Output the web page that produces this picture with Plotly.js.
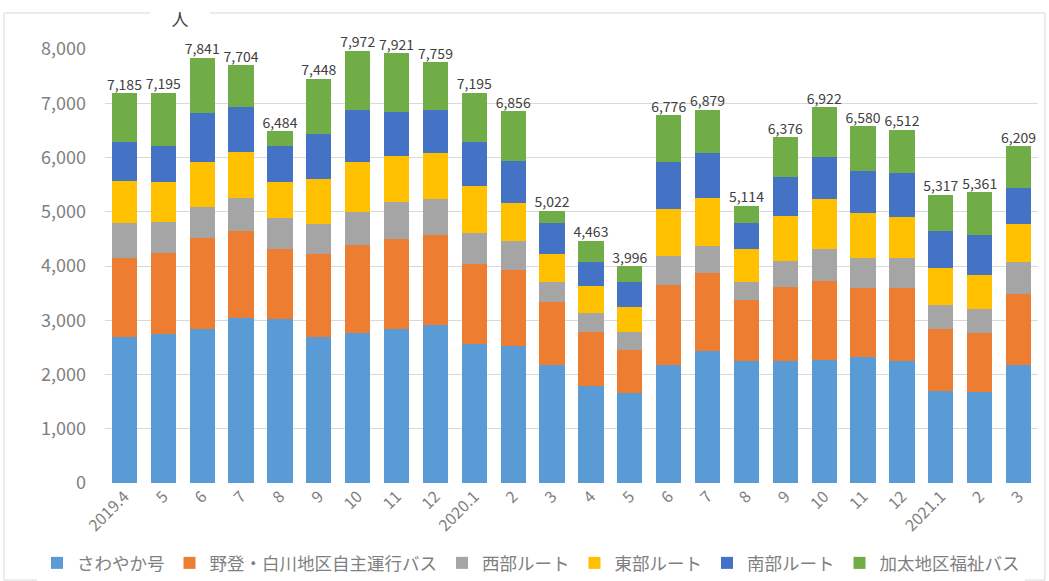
<!DOCTYPE html>
<html>
<head>
<meta charset="utf-8">
<script src="https://cdn.plot.ly/plotly-3.0.1.min.js"></script>
<style>html,body{margin:0;padding:0;background:#fff;}#chart{width:1049px;height:581px;}</style>
</head>
<body>
<div id="chart"></div>
<script>
const months = ["2019.4","5","6","7","8","9","10","11","12","2020.1","2","3","4","5","6","7","8","9","10","11","12","2021.1","2","3"];
const seriesNames = ["さわやか号","野登・白川地区自主運行バス","西部ルート","東部ルート","南部ルート","加太地区福祉バス"];
const sawayaka = [2690,2750,2835,3045,3025,2700,2760,2840,2920,2565,2530,2180,1790,1660,2180,2440,2240,2240,2275,2330,2255,1700,1685,2180];
const notoShirakawa = [1450,1495,1675,1605,1285,1520,1625,1650,1650,1480,1405,1150,985,790,1475,1440,1140,1375,1450,1270,1345,1140,1075,1295];
const seibu = [650,565,575,595,570,555,605,690,660,555,520,370,355,340,525,495,325,480,580,540,540,435,450,600];
const toubu = [785,735,840,865,665,830,920,840,855,880,715,530,495,450,865,875,600,830,935,830,760,690,620,700];
const nanbu = [710,660,890,820,675,820,958,815,785,800,760,570,440,460,870,835,495,710,770,775,815,685,740,655];
const kabuto = [900,990,1026,774,264,1023,1104,1086,889,915,926,222,398,296,861,794,314,741,912,835,797,667,791,779];
const totals = [7185,7195,7841,7704,6484,7448,7972,7921,7759,7195,6856,5022,4463,3996,6776,6879,5114,6376,6922,6580,6512,5317,5361,6209];
const colors = ["#5B9BD5","#ED7D31","#A5A5A5","#FFC000","#4472C4","#70AD47"];

const seriesVals = [sawayaka, notoShirakawa, seibu, toubu, nanbu, kabuto];
const xIdx = months.map((m,i)=>i);
const traces = seriesVals.map((vals,k)=>({
  type:"bar", x:xIdx, y:vals, name:seriesNames[k],
  marker:{color:colors[k], line:{width:0}}, hoverinfo:"skip"
}));
traces.push({
  type:"scatter", mode:"text", x:xIdx, y:totals,
  text:totals.map(v=>v.toLocaleString("en-US")),
  textposition:"top center",
  textfont:{size:14, color:"#404040", family:"Noto Sans CJK JP, sans-serif"},
  showlegend:false, hoverinfo:"skip", cliponaxis:false
});

const PL=105, PR=1038, PT=49, PB=483;
const px=(x)=>(x-PL)/(PR-PL);
const py=(y)=>(PB-y)/(PB-PT);

const layout = {
  width:1049, height:581,
  margin:{l:PL, r:1049-PR, t:PT, b:581-PB, autoexpand:false},
  paper_bgcolor:"#ffffff", plot_bgcolor:"#ffffff",
  barmode:"stack", bargap:0.35,
  font:{family:"Noto Sans CJK JP, sans-serif", color:"#7f7f7f"},
  xaxis:{
    tickmode:"array", tickvals:xIdx, ticktext:months,
    tickangle:-45, tickfont:{size:16, color:"#7f7f7f"},
    range:[-0.5, 23.5], showgrid:false, zeroline:false, showline:false, ticks:"",
    automargin:false
  },
  yaxis:{
    range:[0,8000], tickvals:[0,1000,2000,3000,4000,5000,6000,7000,8000],
    tickformat:",d", tickfont:{size:18, color:"#7f7f7f"},
    gridcolor:"#d9d9d9", gridwidth:1, zeroline:false, showline:false,
    ticklabelstandoff:18, automargin:false
  },
  legend:{
    orientation:"h", x:px(37), xanchor:"left", y:py(563), yanchor:"middle",
    font:{size:17.5, color:"#7f7f7f"}, traceorder:"normal", itemwidth:30
  },
  shapes:[{
    type:"rect", xref:"paper", yref:"paper",
    x0:px(4), x1:px(1045), y0:py(580), y1:py(13),
    line:{color:"#d9d9d9", width:1}, fillcolor:"rgba(0,0,0,0)", layer:"below"
  }],
  annotations:[{
    xref:"paper", yref:"paper", x:px(180), y:py(18),
    xanchor:"center", yanchor:"middle",
    text:"人", showarrow:false, bgcolor:"#ffffff", width:56, height:22,
    font:{size:17, color:"#404040"}
  }]
};

Plotly.newPlot("chart", traces, layout, {staticPlot:true, displayModeBar:false});
</script>
</body>
</html>
